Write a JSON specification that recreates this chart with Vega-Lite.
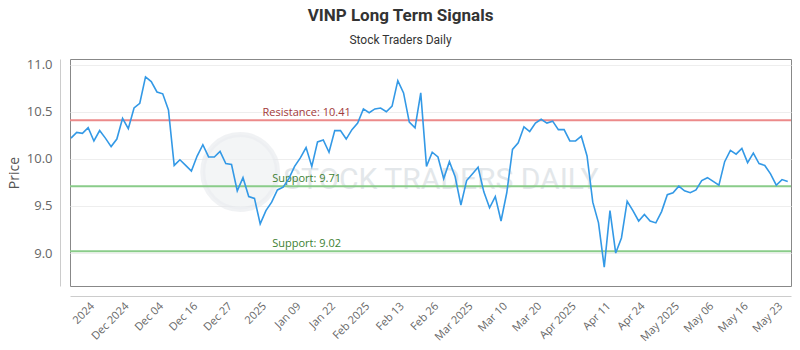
{
  "$schema": "https://vega.github.io/schema/vega-lite/v6.json",
  "width": 721,
  "height": 227,
  "autosize": "none",
  "padding": {"left": 70, "top": 59, "right": 9, "bottom": 64},
  "background": "white",
  "title": {
    "text": "VINP Long Term Signals",
    "subtitle": "Stock Traders Daily",
    "anchor": "middle",
    "dx": -30,
    "offset": 12,
    "font": "Roboto",
    "fontSize": 17,
    "fontWeight": "bold",
    "color": "#333333",
    "subtitleFont": "Roboto",
    "subtitleFontSize": 12,
    "subtitleColor": "#333333",
    "subtitlePadding": 10
  },
  "config": {
    "view": {"stroke": "#888888", "strokeWidth": 1},
    "axis": {"labelFont": "Open Sans", "titleFont": "Open Sans", "labelColor": "#666666", "titleColor": "#555555"}
  },
  "datasets": {
    "prices": [
      {"i": 0, "price": 10.22}, {"i": 1, "price": 10.28}, {"i": 2, "price": 10.27}, {"i": 3, "price": 10.33},
      {"i": 4, "price": 10.19}, {"i": 5, "price": 10.30}, {"i": 6, "price": 10.22}, {"i": 7, "price": 10.13},
      {"i": 8, "price": 10.21}, {"i": 9, "price": 10.43}, {"i": 10, "price": 10.32}, {"i": 11, "price": 10.54},
      {"i": 12, "price": 10.59}, {"i": 13, "price": 10.87}, {"i": 14, "price": 10.82}, {"i": 15, "price": 10.71},
      {"i": 16, "price": 10.69}, {"i": 17, "price": 10.52}, {"i": 18, "price": 9.93}, {"i": 19, "price": 9.99},
      {"i": 20, "price": 9.93}, {"i": 21, "price": 9.87}, {"i": 22, "price": 10.03}, {"i": 23, "price": 10.15},
      {"i": 24, "price": 10.02}, {"i": 25, "price": 10.02}, {"i": 26, "price": 10.08}, {"i": 27, "price": 9.95},
      {"i": 28, "price": 9.94}, {"i": 29, "price": 9.66}, {"i": 30, "price": 9.80}, {"i": 31, "price": 9.60},
      {"i": 32, "price": 9.58}, {"i": 33, "price": 9.31}, {"i": 34, "price": 9.45}, {"i": 35, "price": 9.54},
      {"i": 36, "price": 9.67}, {"i": 37, "price": 9.70}, {"i": 38, "price": 9.79}, {"i": 39, "price": 9.92},
      {"i": 40, "price": 10.01}, {"i": 41, "price": 10.12}, {"i": 42, "price": 9.92}, {"i": 43, "price": 10.18},
      {"i": 44, "price": 10.20}, {"i": 45, "price": 10.07}, {"i": 46, "price": 10.30}, {"i": 47, "price": 10.30},
      {"i": 48, "price": 10.21}, {"i": 49, "price": 10.31}, {"i": 50, "price": 10.38}, {"i": 51, "price": 10.53},
      {"i": 52, "price": 10.49}, {"i": 53, "price": 10.53}, {"i": 54, "price": 10.54}, {"i": 55, "price": 10.50},
      {"i": 56, "price": 10.56}, {"i": 57, "price": 10.83}, {"i": 58, "price": 10.70}, {"i": 59, "price": 10.39},
      {"i": 60, "price": 10.33}, {"i": 61, "price": 10.70}, {"i": 62, "price": 9.92}, {"i": 63, "price": 10.07},
      {"i": 64, "price": 10.02}, {"i": 65, "price": 9.79}, {"i": 66, "price": 9.97}, {"i": 67, "price": 9.81},
      {"i": 68, "price": 9.51}, {"i": 69, "price": 9.77}, {"i": 70, "price": 9.84}, {"i": 71, "price": 9.91},
      {"i": 72, "price": 9.65}, {"i": 73, "price": 9.48}, {"i": 74, "price": 9.60}, {"i": 75, "price": 9.34},
      {"i": 76, "price": 9.64}, {"i": 77, "price": 10.10}, {"i": 78, "price": 10.17}, {"i": 79, "price": 10.34},
      {"i": 80, "price": 10.29}, {"i": 81, "price": 10.38}, {"i": 82, "price": 10.42}, {"i": 83, "price": 10.38},
      {"i": 84, "price": 10.40}, {"i": 85, "price": 10.31}, {"i": 86, "price": 10.31}, {"i": 87, "price": 10.19},
      {"i": 88, "price": 10.19}, {"i": 89, "price": 10.24}, {"i": 90, "price": 10.03}, {"i": 91, "price": 9.54},
      {"i": 92, "price": 9.32}, {"i": 93, "price": 8.85}, {"i": 94, "price": 9.45}, {"i": 95, "price": 9.00},
      {"i": 96, "price": 9.16}, {"i": 97, "price": 9.55}, {"i": 98, "price": 9.45}, {"i": 99, "price": 9.34},
      {"i": 100, "price": 9.41}, {"i": 101, "price": 9.34}, {"i": 102, "price": 9.32}, {"i": 103, "price": 9.44},
      {"i": 104, "price": 9.62}, {"i": 105, "price": 9.64}, {"i": 106, "price": 9.71}, {"i": 107, "price": 9.66},
      {"i": 108, "price": 9.64}, {"i": 109, "price": 9.67}, {"i": 110, "price": 9.77}, {"i": 111, "price": 9.80},
      {"i": 112, "price": 9.76}, {"i": 113, "price": 9.72}, {"i": 114, "price": 9.97}, {"i": 115, "price": 10.09},
      {"i": 116, "price": 10.05}, {"i": 117, "price": 10.11}, {"i": 118, "price": 9.96}, {"i": 119, "price": 10.06},
      {"i": 120, "price": 9.95}, {"i": 121, "price": 9.93}, {"i": 122, "price": 9.84}, {"i": 123, "price": 9.72},
      {"i": 124, "price": 9.78}, {"i": 125, "price": 9.76}
    ],
    "levels": [
      {"kind": "Resistance", "level": 10.41, "name": "Resistance: 10.41", "pos": 41.1},
      {"kind": "Support", "level": 9.71, "name": "Support: 9.71", "pos": 41.1},
      {"kind": "Support", "level": 9.02, "name": "Support: 9.02", "pos": 41.1}
    ],
    "watermark": [
      {"name": "STOCK TRADERS DAILY", "pos": 64.5, "level": 9.78, "logoPos": 29.5, "logoLevel": 9.86}
    ]
  },
  "data": {"name": "prices"},
  "encoding": {
    "x": {
      "field": "i",
      "type": "quantitative",
      "scale": {"domain": [-0.17, 125.57], "nice": false, "zero": false},
      "axis": {
        "title": null,
        "grid": false,
        "ticks": false,
        "offset": 10,
        "domainColor": "#cccccc",
        "values": [3, 9, 15, 21, 27, 33, 39, 45, 51, 57, 63, 69, 75, 81, 87, 93, 99, 105, 111, 117, 123],
        "labelExpr": "['2024','Dec 2024','Dec 04','Dec 16','Dec 27','2025','Jan 09','Jan 22','Feb 2025','Feb 13','Feb 26','Mar 2025','Mar 10','Mar 20','Apr 2025','Apr 11','Apr 24','May 2025','May 06','May 16','May 23'][round((datum.value - 3) / 6)]",
        "labelAngle": -45,
        "labelAlign": "right",
        "labelBaseline": "top",
        "labelFontSize": 11,
        "labelPadding": 4,
        "labelOverlap": false,
        "labelBound": false,
        "labelFlush": false
      }
    },
    "y": {
      "field": "price",
      "type": "quantitative",
      "scale": {"domain": [8.65, 11.06], "nice": false, "zero": false},
      "axis": {
        "title": "Price",
        "titleFontSize": 14,
        "titleFontWeight": "normal",
        "titlePadding": 5,
        "offset": 10,
        "domainColor": "#cccccc",
        "ticks": false,
        "values": [9.0, 9.5, 10.0, 10.5, 11.0],
        "format": ".1f",
        "labelFontSize": 13,
        "labelPadding": 8,
        "gridColor": "#eeeeee"
      }
    }
  },
  "layer": [
    {
      "data": {"name": "watermark"},
      "mark": {"type": "point", "shape": "circle", "size": 5600, "filled": true, "color": "#eef1f3", "opacity": 0.7, "stroke": "#e2e6e9", "strokeWidth": 5, "strokeOpacity": 0.7},
      "encoding": {"x": {"field": "logoPos", "type": "quantitative"}, "y": {"field": "logoLevel", "type": "quantitative"}}
    },
    {
      "data": {"name": "watermark"},
      "mark": {"type": "text", "font": "Roboto", "fontSize": 30, "fontWeight": "normal", "color": "#e3e7ea"},
      "encoding": {
        "x": {"field": "pos", "type": "quantitative"},
        "y": {"field": "level", "type": "quantitative"},
        "text": {"field": "name", "type": "nominal"}
      }
    },
    {
      "data": {"name": "levels"},
      "transform": [{"filter": "datum.kind === 'Resistance'"}],
      "mark": {"type": "rule", "strokeWidth": 2, "color": "#ec8a8a"},
      "encoding": {"x": {"value": 0}, "x2": {"value": 721}, "y": {"field": "level", "type": "quantitative"}}
    },
    {
      "data": {"name": "levels"},
      "transform": [{"filter": "datum.kind === 'Support'"}],
      "mark": {"type": "rule", "strokeWidth": 2, "color": "#8acc8a"},
      "encoding": {"x": {"value": 0}, "x2": {"value": 721}, "y": {"field": "level", "type": "quantitative"}}
    },
    {
      "data": {"name": "levels"},
      "transform": [{"filter": "datum.kind === 'Resistance'"}],
      "mark": {"type": "text", "baseline": "bottom", "align": "center", "dy": -2, "font": "Open Sans", "fontSize": 11, "color": "#a33a3a"},
      "encoding": {
        "x": {"field": "pos", "type": "quantitative"},
        "y": {"field": "level", "type": "quantitative"},
        "text": {"field": "name", "type": "nominal"}
      }
    },
    {
      "data": {"name": "levels"},
      "transform": [{"filter": "datum.kind === 'Support'"}],
      "mark": {"type": "text", "baseline": "bottom", "align": "center", "dy": -2, "font": "Open Sans", "fontSize": 11, "color": "#3d7f32"},
      "encoding": {
        "x": {"field": "pos", "type": "quantitative"},
        "y": {"field": "level", "type": "quantitative"},
        "text": {"field": "name", "type": "nominal"}
      }
    },
    {
      "mark": {"type": "line", "color": "#3399e6", "strokeWidth": 1.6, "clip": true},
      "encoding": {}
    }
  ]
}
